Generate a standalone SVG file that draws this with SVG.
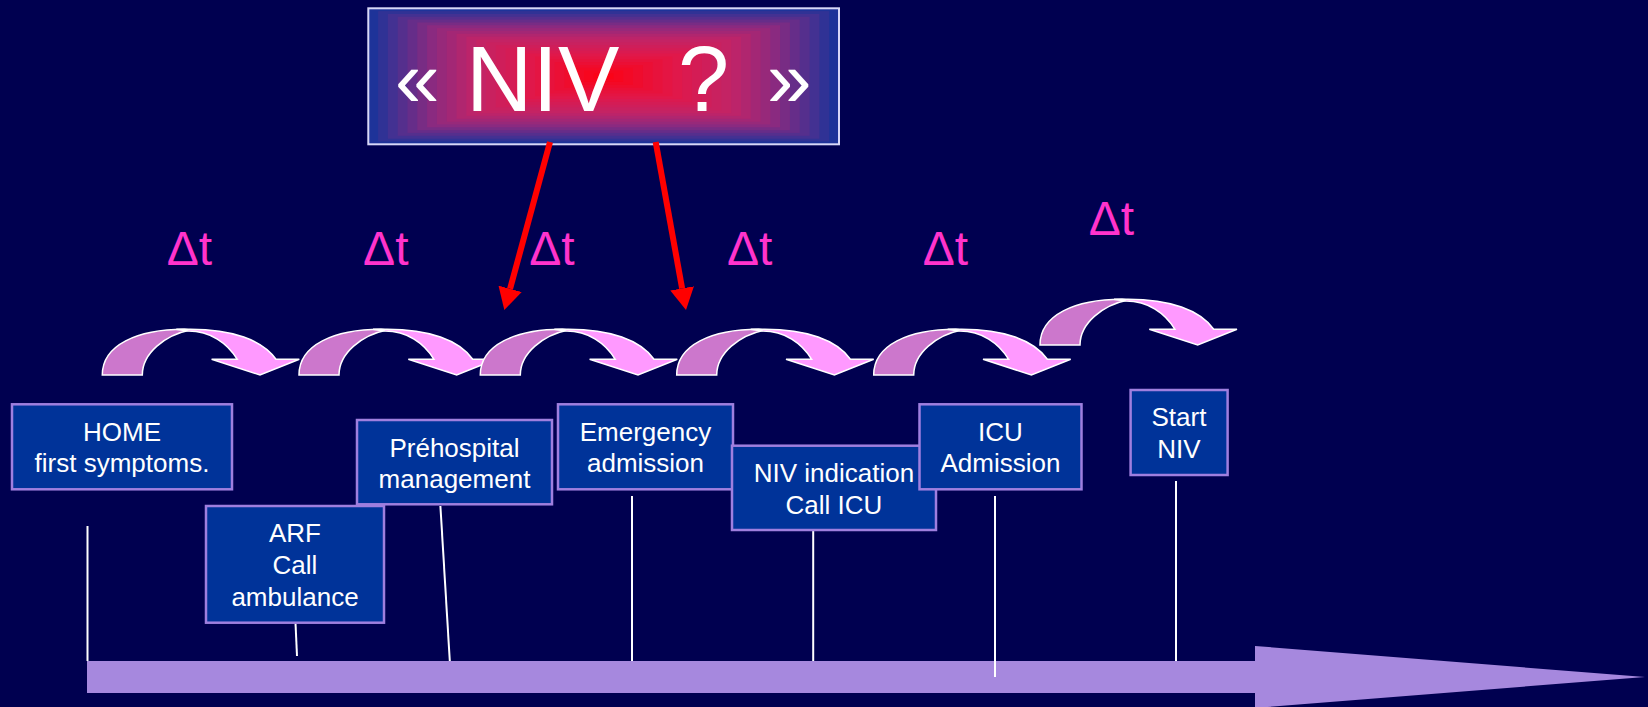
<svg xmlns="http://www.w3.org/2000/svg" xmlns:xlink="http://www.w3.org/1999/xlink" width="1648" height="707" viewBox="0 0 1648 707">
<defs>
<style>
.box{fill:#003399;stroke:#9f7fdf;stroke-width:2.5}
.bt{font-family:"Liberation Sans",Arial,sans-serif;font-size:26px;fill:#ffffff;text-anchor:middle}
.dt{font-family:"Liberation Sans",Arial,sans-serif;font-size:48px;fill:#ff33cc;text-anchor:middle}
.tt{font-family:"Liberation Sans",Arial,sans-serif;fill:#ffffff}
.tick{stroke:#ffffff;stroke-width:2;fill:none}
.red{stroke:#ff0000;stroke-width:6;fill:none}
.dk{fill:#cc77cc;stroke:#ffffff;stroke-width:1.5}
.lt{fill:#ff99ff;stroke:#ffffff;stroke-width:1.5}
</style>
<marker id="rh" markerUnits="userSpaceOnUse" markerWidth="24" markerHeight="24" refX="0" refY="12" orient="auto">
<path d="M0,0 L22,12 L0,24 Z" fill="#ff0000"/>
</marker>
<g id="curve">
<path class="dk" d="M0,0 C0,-30 35,-45.7 82,-45.7 L88,-45 C63,-40 40,-22 40,0 Z"/>
<path class="lt" d="M74,-45.7 L88,-45.7 C130,-45.7 160,-35 173.7,-15.7 L197,-15.7 L157.7,0 L109.3,-15.7 L135,-15.7 C125,-32 108,-44 86,-44 C81,-44.5 78,-45 74,-45.7 Z"/>
</g>
</defs>
<rect x="0" y="0" width="1648" height="707" fill="#000050"/>

<g id="title">
<rect x="368.3" y="8.3" width="470.7" height="136" fill="rgb(30,51,153)"/>
<rect x="378.1" y="11.1" width="451.1" height="130.3" fill="rgb(48,50,149)"/>
<rect x="387.9" y="14" width="431.5" height="124.7" fill="rgb(67,49,146)"/>
<rect x="397.7" y="16.8" width="411.9" height="119" fill="rgb(85,47,141)"/>
<rect x="407.5" y="19.6" width="392.2" height="113.3" fill="rgb(102,45,137)"/>
<rect x="417.3" y="22.5" width="372.6" height="107.7" fill="rgb(120,44,132)"/>
<rect x="427.1" y="25.3" width="353" height="102" fill="rgb(138,42,128)"/>
<rect x="436.9" y="28.1" width="333.4" height="96.3" fill="rgb(151,41,122)"/>
<rect x="446.8" y="31" width="313.8" height="90.7" fill="rgb(163,39,117)"/>
<rect x="456.6" y="33.8" width="294.2" height="85" fill="rgb(176,38,111)"/>
<rect x="466.4" y="36.6" width="274.6" height="79.3" fill="rgb(188,36,106)"/>
<rect x="476.2" y="39.5" width="255" height="73.7" fill="rgb(196,35,100)"/>
<rect x="486" y="42.3" width="235.4" height="68" fill="rgb(201,33,95)"/>
<rect x="495.8" y="45.1" width="215.7" height="62.3" fill="rgb(207,30,90)"/>
<rect x="505.6" y="48" width="196.2" height="56.7" fill="rgb(212,28,85)"/>
<rect x="515.4" y="50.8" width="176.5" height="51" fill="rgb(218,26,80)"/>
<rect x="525.2" y="53.6" width="156.9" height="45.3" fill="rgb(224,24,74)"/>
<rect x="535" y="56.5" width="137.3" height="39.7" fill="rgb(228,21,67)"/>
<rect x="544.8" y="59.3" width="117.7" height="34" fill="rgb(231,18,60)"/>
<rect x="554.6" y="62.1" width="98.1" height="28.3" fill="rgb(235,15,53)"/>
<rect x="564.4" y="65" width="78.5" height="22.7" fill="rgb(239,12,45)"/>
<rect x="574.2" y="67.8" width="58.8" height="17" fill="rgb(243,9,38)"/>
<rect x="584" y="70.6" width="39.2" height="11.3" fill="rgb(247,6,31)"/>
<rect x="593.8" y="73.4" width="19.6" height="5.7" fill="rgb(251,3,23)"/>
<rect x="368.3" y="8.3" width="470.7" height="136" fill="none" stroke="#d8d8f8" stroke-width="2"/>
<text class="tt" font-size="92" y="111"><tspan x="395" y="107" font-size="80">«</tspan><tspan x="466" y="111">NIV</tspan><tspan x="678" y="111">?</tspan><tspan x="767" y="107" font-size="80">»</tspan></text>
</g>

<g id="axis">
<path d="M87,661 L1255,661 L1255,646 L1645,677 L1255,708 L1255,693 L87,693 Z" fill="#a688de"/>
</g>

<g id="connectors">
<line class="red" x1="550" y1="142" x2="510.1" y2="288.8" marker-end="url(#rh)"/>
<line class="red" x1="655.7" y1="142" x2="682.1" y2="288.4" marker-end="url(#rh)"/>
<line class="tick" x1="87.5" y1="526" x2="87.5" y2="661"/>
<line class="tick" x1="295.5" y1="623" x2="297" y2="656"/>
<line class="tick" x1="440.4" y1="506" x2="449.8" y2="661"/>
<line class="tick" x1="632" y1="496" x2="632" y2="661"/>
<line class="tick" x1="813.2" y1="526" x2="813.2" y2="661" stroke-width="1.5"/>
<line class="tick" x1="995" y1="496" x2="995" y2="677"/>
<line class="tick" x1="1176" y1="481" x2="1176" y2="661"/>
</g>

<g id="steps">
<use xlink:href="#curve" transform="translate(102.3,375)"/>
<use xlink:href="#curve" transform="translate(299,375)"/>
<use xlink:href="#curve" transform="translate(480.3,375)"/>
<use xlink:href="#curve" transform="translate(676.7,375)"/>
<use xlink:href="#curve" transform="translate(873.7,375)"/>
<use xlink:href="#curve" transform="translate(1040,345)"/>
</g>

<g id="deltas">
<text class="dt" x="189.5" y="265">Δt</text>
<text class="dt" x="385.8" y="265">Δt</text>
<text class="dt" x="552" y="265">Δt</text>
<text class="dt" x="749.7" y="265">Δt</text>
<text class="dt" x="945.5" y="265">Δt</text>
<text class="dt" x="1111.5" y="235">Δt</text>
</g>

<g id="home">
<rect class="box" x="12" y="404.3" width="220" height="85"/>
<text class="bt" x="122" y="441">HOME</text>
<text class="bt" x="122" y="472">first symptoms.</text>
</g>
<g id="arf">
<rect class="box" x="206" y="506" width="178" height="116.7"/>
<text class="bt" x="295" y="542">ARF</text>
<text class="bt" x="295" y="574">Call</text>
<text class="bt" x="295" y="606">ambulance</text>
</g>
<g id="prehospital">
<rect class="box" x="357" y="420" width="195" height="84.3"/>
<text class="bt" x="454.5" y="457">Préhospital</text>
<text class="bt" x="454.5" y="488">management</text>
</g>
<g id="emergency">
<rect class="box" x="558" y="404.3" width="175" height="85"/>
<text class="bt" x="645.5" y="441">Emergency</text>
<text class="bt" x="645.5" y="472">admission</text>
</g>
<g id="niv-indication">
<rect class="box" x="732" y="445.7" width="204" height="84.3"/>
<text class="bt" x="834" y="482">NIV indication</text>
<text class="bt" x="834" y="514">Call ICU</text>
</g>
<g id="icu">
<rect class="box" x="919.5" y="404.3" width="162" height="85"/>
<text class="bt" x="1000.5" y="441">ICU</text>
<text class="bt" x="1000.5" y="472">Admission</text>
</g>
<g id="start-niv">
<rect class="box" x="1130.6" y="390" width="97" height="85"/>
<text class="bt" x="1179" y="426">Start</text>
<text class="bt" x="1179" y="458">NIV</text>
</g>
</svg>
